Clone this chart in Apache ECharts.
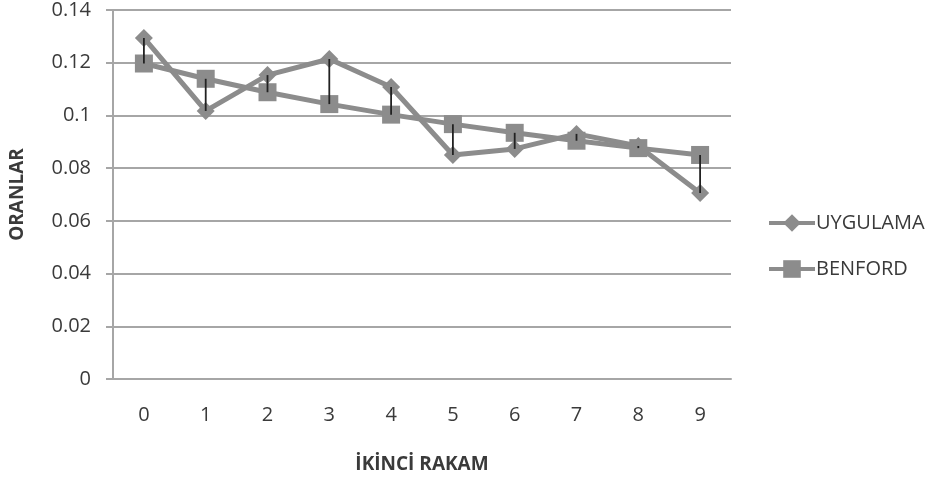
<!DOCTYPE html>
<html><head><meta charset="utf-8">
<script src="https://cdn.jsdelivr.net/npm/echarts@6/dist/echarts.min.js"></script>
<style>html,body{margin:0;padding:0;background:#fff}#c{width:934px;height:480px}</style>
</head><body><div id="c"></div>
<script>
const categories = ['0','1','2','3','4','5','6','7','8','9'];
const uygulama = [0.1294, 0.1017, 0.1153, 0.1214, 0.1108, 0.0850, 0.0873, 0.0930, 0.0884, 0.0706];
const benford = [0.1197, 0.1139, 0.1088, 0.1043, 0.1003, 0.0967, 0.0934, 0.0904, 0.0876, 0.0850];
const seriesNames = ['UYGULAMA', 'BENFORD'];

const hiLo = categories.map((c, i) => [i, uygulama[i], benford[i]]);
const font = 'Open Sans, Liberation Sans, sans-serif';
const chart = echarts.init(document.getElementById('c'), null, {renderer: 'canvas'});
chart.setOption({
  animation: false,
  grid: {left: 113, right: 203, top: 10, bottom: 101},
  legend: {
    orient: 'vertical', left: 762, top: 208, itemGap: 26, itemWidth: 46, itemHeight: 22,
    textStyle: {fontFamily: font, fontSize: 20, color: '#3a3a3a', padding: [0, 0, 0, -4]},
    lineStyle: {width: 4},
    data: seriesNames
  },
  xAxis: {
    type: 'category', data: categories, boundaryGap: true,
    name: 'İKİNCİ RAKAM', nameLocation: 'middle', nameGap: 76,
    nameTextStyle: {fontFamily: font, fontSize: 19, fontWeight: 'bold', color: '#3a3a3a'},
    axisLine: {lineStyle: {color: '#a6a6a6', width: 2}},
    axisTick: {show: false},
    axisLabel: {fontFamily: font, fontSize: 20, color: '#3a3a3a', margin: 26}
  },
  yAxis: {
    type: 'value', min: 0, max: 0.14, interval: 0.02,
    name: 'ORANLAR', nameLocation: 'middle', nameGap: 86, nameRotate: 90,
    nameTextStyle: {fontFamily: font, fontSize: 19, fontWeight: 'bold', color: '#3a3a3a'},
    axisLine: {show: true, lineStyle: {color: '#a6a6a6', width: 2}},
    axisTick: {show: true, length: 7, lineStyle: {color: '#a6a6a6', width: 2}},
    splitLine: {lineStyle: {color: '#a6a6a6', width: 2}},
    axisLabel: {fontFamily: font, fontSize: 20, color: '#3a3a3a', margin: 22,
      formatter: v => String(+v.toFixed(2))}
  },
  series: [
    {name: seriesNames[0], type: 'line', data: uygulama, symbol: 'diamond', symbolSize: 18,
      lineStyle: {color: '#8c8c8c', width: 5}, itemStyle: {color: '#8c8c8c'}, z: 3},
    {name: seriesNames[1], type: 'line', data: benford, symbol: 'rect', symbolSize: 18,
      lineStyle: {color: '#8c8c8c', width: 5}, itemStyle: {color: '#8c8c8c'}, z: 3},
    {type: 'custom', data: hiLo, z: 5, silent: true,
      encode: {x: 0, y: [1, 2]},
      renderItem: function (params, api) {
        const a = api.coord([api.value(0), api.value(1)]);
        const b = api.coord([api.value(0), api.value(2)]);
        return {type: 'line', shape: {x1: a[0], y1: a[1], x2: b[0], y2: b[1]},
          style: {stroke: '#222', lineWidth: 1.8}};
      }}
  ]
});
</script></body></html>
